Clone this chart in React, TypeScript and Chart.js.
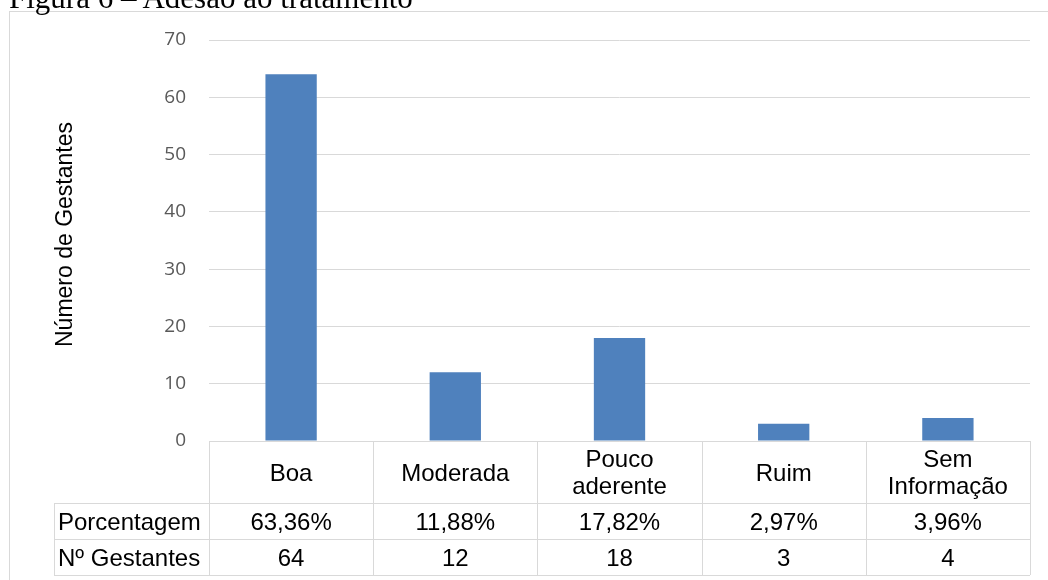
import React, { useEffect, useRef } from "react";
import { Chart, registerables } from "chart.js";

Chart.register(...registerables);

// Adherence categories (lines of each table header cell)
const categoryLines: string[][] = [
  ["Boa"],
  ["Moderada"],
  ["Pouco", "aderente"],
  ["Ruim"],
  ["Sem", "Informação"],
];
const categories: string[] = categoryLines.map((l) => l.join(" "));

// Number of pregnant women per category
const gestantes: number[] = [64, 12, 18, 3, 4];

// Percentage row of the data table
const porcentagens: string[] = ["63,36%", "11,88%", "17,82%", "2,97%", "3,96%"];

const rowLabels: string[] = ["Porcentagem", "Nº Gestantes"];
const yTicks: number[] = [0, 10, 20, 30, 40, 50, 60, 70];

const titleText = "Figura 6 – Adesão ao tratamento";
const yTitle = "Número de Gestantes";

const BAR_COLOR = "#4F81BD";
const LINE_COLOR = "#D9D9D9";
const TABLE_FONT = '24px "Liberation Sans", Arial, sans-serif';

// Table geometry
const HEADER_H = 62;
const ROW_H = 36;
const LABEL_COL_LEFT = 54;

const tablePlugin = {
  id: "dataTable",
  afterDraw(chart: any) {
    const { ctx, chartArea } = chart;
    const xScale = chart.scales.x;
    const n = categories.length;
    const colW = (chartArea.right - chartArea.left) / n;
    const top = chartArea.bottom;
    const rowTops = [top, top + HEADER_H, top + HEADER_H + ROW_H];
    const bottom = top + HEADER_H + 2 * ROW_H;
    const px = (v: number) => Math.round(v) + 0.5;

    ctx.save();
    ctx.strokeStyle = LINE_COLOR;
    ctx.lineWidth = 1;
    ctx.beginPath();
    // header top line
    ctx.moveTo(chartArea.left, px(top));
    ctx.lineTo(chartArea.right, px(top));
    // row lines including label column
    for (const y of [rowTops[1], rowTops[2], bottom]) {
      ctx.moveTo(LABEL_COL_LEFT, px(y));
      ctx.lineTo(chartArea.right, px(y));
    }
    // column lines
    for (let i = 0; i <= n; i++) {
      const x = px(chartArea.left + i * colW);
      ctx.moveTo(x, top);
      ctx.lineTo(x, bottom);
    }
    ctx.moveTo(px(LABEL_COL_LEFT), rowTops[1]);
    ctx.lineTo(px(LABEL_COL_LEFT), bottom);
    ctx.stroke();

    ctx.font = TABLE_FONT;
    ctx.fillStyle = "#000";
    ctx.textBaseline = "alphabetic";
    const capHalf = 8.6;
    const lineGap = 27;

    // header cells
    ctx.textAlign = "center";
    const headerMid = top + HEADER_H / 2;
    categoryLines.forEach((lines, i) => {
      const cx = xScale.getPixelForValue(i);
      lines.forEach((t, k) => {
        const y = headerMid + capHalf + (k - (lines.length - 1) / 2) * lineGap;
        ctx.fillText(t, cx, y);
      });
    });

    // data rows
    const rows: string[][] = [porcentagens, gestantes.map((v) => String(v))];
    rows.forEach((vals, r) => {
      const mid = rowTops[r + 1] + ROW_H / 2;
      ctx.textAlign = "left";
      ctx.fillText(rowLabels[r], LABEL_COL_LEFT + 4, mid + capHalf);
      ctx.textAlign = "center";
      vals.forEach((v, i) => {
        ctx.fillText(v, xScale.getPixelForValue(i), mid + capHalf);
      });
    });

    // vertical axis title
    ctx.font = '23px "Liberation Sans", Arial, sans-serif';
    ctx.textAlign = "center";
    ctx.translate(72, (chartArea.top + chartArea.bottom) / 2 - 6);
    ctx.rotate(-Math.PI / 2);
    ctx.fillText(yTitle, 0, 0);
    ctx.restore();
  },
};

function AdesaoChart() {
  const canvasRef = useRef<HTMLCanvasElement | null>(null);

  useEffect(() => {
    if (!canvasRef.current) return;
    const chart = new Chart(canvasRef.current, {
      type: "bar",
      data: {
        labels: categories,
        datasets: [
          {
            data: gestantes,
            backgroundColor: BAR_COLOR,
            borderWidth: 0,
            categoryPercentage: 1,
            barPercentage: 0.3125,
          },
        ],
      },
      options: {
        responsive: false,
        animation: false,
        layout: { padding: { left: 0, top: 40, right: 18, bottom: 139 } },
        plugins: {
          legend: { display: false },
          tooltip: { enabled: false },
          title: { display: false },
        },
        scales: {
          x: { type: "category", display: false, offset: true },
          y: {
            min: yTicks[0],
            max: yTicks[yTicks.length - 1],
            afterFit: (scale: any) => {
              scale.width = 209;
            },
            afterBuildTicks: (scale: any) => {
              scale.ticks = yTicks.map((v) => ({ value: v }));
            },
            border: { display: false },
            grid: { color: LINE_COLOR, lineWidth: 1, drawTicks: false },
            ticks: {
              padding: 23,
              color: "#595959",
              font: { family: '"Open Sans", sans-serif', size: 19 },
            },
          },
        },
      },
      plugins: [tablePlugin],
    });
    return () => chart.destroy();
  }, []);

  return <canvas ref={canvasRef} width={1048} height={580} style={{ position: "absolute", left: 0, top: 0 }} />;
}

export default function App() {
  return (
    <div
      style={{
        position: "fixed",
        left: 0,
        top: 0,
        width: 1048,
        height: 580,
        overflow: "hidden",
        background: "#fff",
      }}
    >
      <div
        style={{
          position: "absolute",
          left: 9,
          top: 11,
          width: 1200,
          height: 800,
          borderLeft: `1px solid ${LINE_COLOR}`,
          borderTop: `1px solid ${LINE_COLOR}`,
        }}
      />
      <AdesaoChart />
      <div
        style={{
          position: "absolute",
          left: 9,
          top: -18.5,
          fontFamily: '"Liberation Serif", "Times New Roman", serif',
          fontSize: 31,
          lineHeight: "31px",
          whiteSpace: "nowrap",
          color: "#000",
        }}
      >
        {titleText}
      </div>
    </div>
  );
}
